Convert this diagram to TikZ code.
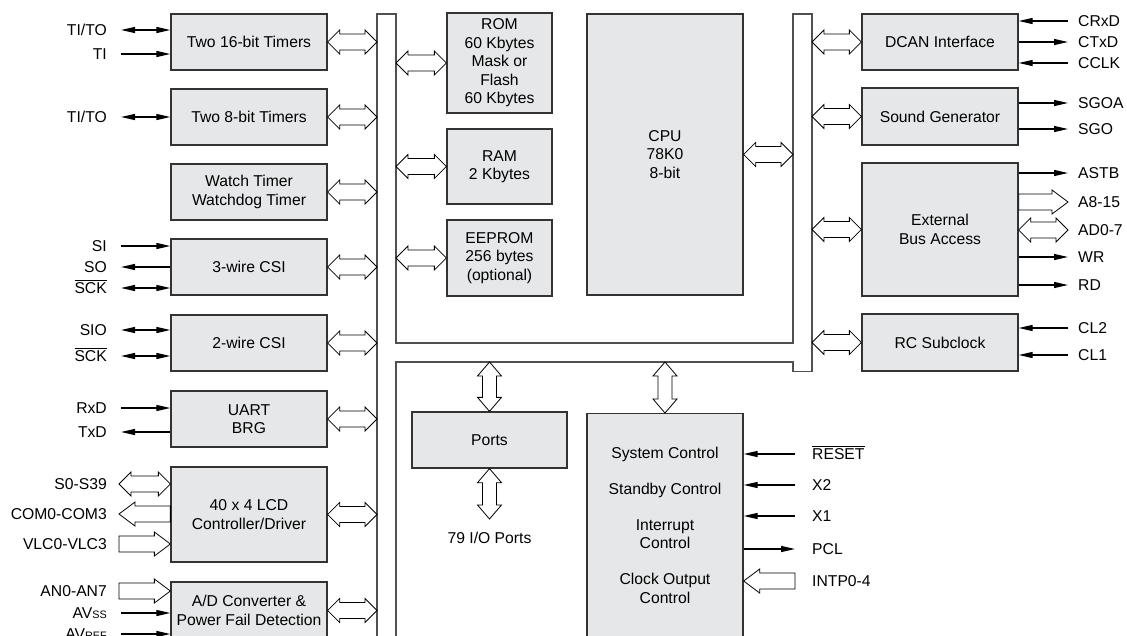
\documentclass[tikz,border=0pt]{standalone}
\usepackage{fontspec}
\setmainfont{Liberation Sans}
\usetikzlibrary{arrows.meta,calc}
\definecolor{boxfill}{HTML}{E6E7E8}
\definecolor{boxline}{HTML}{333333}
\definecolor{busline}{HTML}{505050}
\newcommand\fsz{\fontsize{15.7pt}{18.5pt}\selectfont}
\newcommand\smallsub[1]{{\fontsize{10.8pt}{10.8pt}\selectfont #1}}
\newcommand\ovl[1]{\vbox{\hrule height 0.8pt\kern1.3pt\hbox{#1}}}
% horizontal hollow double arrow, #1 left end, #2 right end
\newcommand\hdbl[2]{%
  \path[hol] let \p1=(#1), \p2=(#2) in
  (\x1,\y1) -- (\x1+12pt,\y1+12pt) -- (\x1+12pt,\y1+8pt) -- (\x2-12pt,\y1+8pt)
  -- (\x2-12pt,\y1+12pt) -- (\x2,\y1) -- (\x2-12pt,\y1-12pt) -- (\x2-12pt,\y1-8pt)
  -- (\x1+12pt,\y1-8pt) -- (\x1+12pt,\y1-12pt) -- cycle;}
% horizontal hollow single arrow, #1 tail, #2 tip
\newcommand\hsgl[2]{%
  \path[hol] let \p1=(#1), \p2=(#2), \n1={16*sign(\x2-\x1)} in
  (\x2,\y1) -- ({\x2-\n1*1pt},{\y1+12pt}) -- ({\x2-\n1*1pt},{\y1+8pt}) -- (\x1,{\y1+8pt})
  -- (\x1,{\y1-8pt}) -- ({\x2-\n1*1pt},{\y1-8pt}) -- ({\x2-\n1*1pt},{\y1-12pt}) -- cycle;}
% vertical hollow double arrow, #1 upper end, #2 lower end
\newcommand\vdbl[2]{%
  \path[hol] let \p1=(#1), \p2=(#2) in
  (\x1,\y1) -- (\x1+12pt,\y1-14pt) -- (\x1+7pt,\y1-14pt) -- (\x1+7pt,\y2+14pt)
  -- (\x1+12pt,\y2+14pt) -- (\x1,\y2) -- (\x1-12pt,\y2+14pt) -- (\x1-7pt,\y2+14pt)
  -- (\x1-7pt,\y1-14pt) -- (\x1-12pt,\y1-14pt) -- cycle;}
\begin{document}
\begin{tikzpicture}[x=1pt,y=-1pt,
  every node/.style={font=\fsz},
  blk/.style={draw=boxline, line width=1.3pt, fill=boxfill, inner sep=0pt, align=center},
  lab/.style={inner sep=0pt, text height=11pt, text depth=0pt},
  sig/.style={line width=1.3pt, -{Triangle[length=14pt,width=6pt]}},
  sigb/.style={line width=1.3pt, {Triangle[length=14pt,width=6pt]}-{Triangle[length=14pt,width=6pt]}},
  hol/.style={draw=black, line width=0.8pt, fill=white, line join=miter},
  busl/.style={draw=busline, line width=1.2pt}]
\useasboundingbox (0,0) rectangle (1127,635);
\clip (0,0) rectangle (1127,635);
\fill[white] (0,0) rectangle (1127,635);

% bus
\draw[busl] (377,650) -- (377,14) -- (396,14) -- (396,343) -- (793,343) -- (793,14)
  -- (812,14) -- (812,371.5) -- (793,371.5) -- (793,362) -- (396,362) -- (396,650);
\coordinate (lbusL) at (377,0);
\coordinate (lbusR) at (396,0);
\coordinate (rbusL) at (793,0);
\coordinate (rbusR) at (812,0);
\coordinate (busLow) at (0,362);

% left blocks
\node[blk, minimum width=156pt, minimum height=56pt] (t16) at (249,42) {Two 16-bit Timers};
\node[blk, minimum width=156pt, minimum height=56pt] (t8) at (249,117) {Two 8-bit Timers};
\node[blk, minimum width=156pt, minimum height=56pt] (wdt) at (249,192) {Watch Timer\\Watchdog Timer};
\node[blk, minimum width=156pt, minimum height=56pt] (csi3) at (249,267) {3-wire CSI};
\node[blk, minimum width=156pt, minimum height=56pt] (csi2) at (249,343) {2-wire CSI};
\node[blk, minimum width=156pt, minimum height=56pt] (uart) at (249,419) {UART\\BRG};
\node[blk, minimum width=156pt, minimum height=95pt] (lcd) at (249,514.5) {40 x 4 LCD\\Controller/Driver};
\node[blk, minimum width=156pt, minimum height=57pt] (adc) at (249,610.5) {A/D Converter \&\\Power Fail Detection};

% middle blocks
\node[blk, minimum width=105pt, minimum height=100pt] (rom) at (499.5,63) {ROM\\60 Kbytes\\Mask or\\Flash\\60 Kbytes};
\node[blk, minimum width=105pt, minimum height=75pt] (ram) at (499.5,166.5) {RAM\\2 Kbytes};
\node[blk, minimum width=105pt, minimum height=76pt] (eep) at (499.5,258) {EEPROM\\256 bytes\\(optional)};
\node[blk, minimum width=156pt, minimum height=281pt] (cpu) at (665,154.5) {CPU\\78K0\\8-bit};
\node[blk, minimum width=155pt, minimum height=56pt] (ports) at (489.5,440) {Ports};
\node[blk, anchor=north, minimum width=156pt, minimum height=240pt] (sys) at (665,413) {};
\node[align=center, inner sep=0pt] (systxt) at (665,525) {System Control\\[17.5pt]Standby Control\\[17.5pt]Interrupt\\Control\\[17.5pt]Clock Output\\Control};

% right blocks
\node[blk, minimum width=156pt, minimum height=56pt] (dcan) at (940,42) {DCAN Interface};
\node[blk, minimum width=156pt, minimum height=57pt] (snd) at (940,116.5) {Sound Generator};
\node[blk, minimum width=156pt, minimum height=133pt] (ext) at (940,229.5) {External\\Bus Access};
\node[blk, minimum width=156pt, minimum height=57pt] (rc) at (940,342.5) {RC Subclock};

% bus connections
\hdbl{t16.east}{lbusL |- t16.east}
\hdbl{t8.east}{lbusL |- t8.east}
\hdbl{wdt.east}{lbusL |- wdt.east}
\hdbl{csi3.east}{lbusL |- csi3.east}
\hdbl{csi2.east}{lbusL |- csi2.east}
\hdbl{uart.east}{lbusL |- uart.east}
\hdbl{lcd.east}{lbusL |- lcd.east}
\hdbl{adc.east}{lbusL |- adc.east}
\hdbl{lbusR |- rom.west}{rom.west}
\hdbl{lbusR |- ram.west}{ram.west}
\hdbl{lbusR |- eep.west}{eep.west}
\hdbl{cpu.east}{rbusL |- cpu.east}
\hdbl{rbusR |- dcan.west}{dcan.west}
\hdbl{rbusR |- snd.west}{snd.west}
\hdbl{rbusR |- ext.west}{ext.west}
\hdbl{rbusR |- rc.west}{rc.west}
\vdbl{ports.north |- busLow}{ports.north}
\vdbl{sys.north |- busLow}{sys.north}
\coordinate (io) at (489.5,519);
\vdbl{ports.south}{io}
\node (iolab) at (489.5,538) {79 I/O Ports};

% left signals
\node[lab, anchor=east] (lTITOa) at (107,30) {TI/TO};
\node[lab, anchor=east] (lTI) at (107,54) {TI};
\node[lab, anchor=east] (lTITOb) at (107,117) {TI/TO};
\node[lab, anchor=east] (lSI) at (107,246) {SI};
\node[lab, anchor=east] (lSO) at (107,267) {SO};
\node[lab, anchor=east] (lSCKa) at (107,288) {\ovl{SCK}};
\node[lab, anchor=east] (lSIO) at (107,330) {SIO};
\node[lab, anchor=east] (lSCKb) at (107,356) {\ovl{SCK}};
\node[lab, anchor=east] (lRxD) at (107,408) {RxD};
\node[lab, anchor=east] (lTxD) at (107,432) {TxD};
\node[lab, anchor=east] (lS0) at (107,484) {S0-S39};
\node[lab, anchor=east] (lCOM) at (107,514) {COM0-COM3};
\node[lab, anchor=east] (lVLC) at (107,544) {VLC0-VLC3};
\node[lab, anchor=east] (lAN) at (107,591) {AN0-AN7};
\node[lab, anchor=east] (lAVSS) at (107,613) {AV\smallsub{SS}};
\node[lab, anchor=east] (lAVREF) at (107,634) {AV\smallsub{REF}};

\draw[sigb] ([xshift=14pt]lTITOa.east) -- (t16.west |- lTITOa.east);
\draw[sig] ([xshift=14pt]lTI.east) -- (t16.west |- lTI.east);
\draw[sigb] ([xshift=14pt]lTITOb.east) -- (t8.west |- lTITOb.east);
\draw[sig] ([xshift=14pt]lSI.east) -- (csi3.west |- lSI.east);
\draw[sig] (csi3.west |- lSO.east) -- ([xshift=14pt]lSO.east);
\draw[sigb] ([xshift=14pt]lSCKa.east) -- (csi3.west |- lSCKa.east);
\draw[sigb] ([xshift=14pt]lSIO.east) -- (csi2.west |- lSIO.east);
\draw[sigb] ([xshift=14pt]lSCKb.east) -- (csi2.west |- lSCKb.east);
\draw[sig] ([xshift=14pt]lRxD.east) -- (uart.west |- lRxD.east);
\draw[sig] (uart.west |- lTxD.east) -- ([xshift=14pt]lTxD.east);
\hdbl{[xshift=12pt]lS0.east}{lcd.west |- lS0.east}
\hsgl{lcd.west |- lCOM.east}{[xshift=12pt]lCOM.east}
\hsgl{[xshift=12pt]lVLC.east}{lcd.west |- lVLC.east}
\hsgl{[xshift=12pt]lAN.east}{adc.west |- lAN.east}
\draw[sig] ([xshift=14pt]lAVSS.east) -- (adc.west |- lAVSS.east);
\draw[sig] ([xshift=14pt]lAVREF.east) -- (adc.west |- lAVREF.east);

% right signals
\node[lab, anchor=west] (lCRxD) at (1078,21) {CRxD};
\node[lab, anchor=west] (lCTxD) at (1078,42) {CTxD};
\node[lab, anchor=west] (lCCLK) at (1078,63) {CCLK};
\node[lab, anchor=west] (lSGOA) at (1078,103) {SGOA};
\node[lab, anchor=west] (lSGO) at (1078,129) {SGO};
\node[lab, anchor=west] (lASTB) at (1078,173) {ASTB};
\node[lab, anchor=west] (lA8) at (1078,202) {A8-15};
\node[lab, anchor=west] (lAD) at (1078,230) {AD0-7};
\node[lab, anchor=west] (lWR) at (1078,257) {WR};
\node[lab, anchor=west] (lRD) at (1078,285) {RD};
\node[lab, anchor=west] (lCL2) at (1078,328) {CL2};
\node[lab, anchor=west] (lCL1) at (1078,355) {CL1};

\draw[sig] ([xshift=-10pt]lCRxD.west) -- (dcan.east |- lCRxD.west);
\draw[sig] (dcan.east |- lCTxD.west) -- ([xshift=-10pt]lCTxD.west);
\draw[sig] ([xshift=-10pt]lCCLK.west) -- (dcan.east |- lCCLK.west);
\draw[sig] (snd.east |- lSGOA.west) -- ([xshift=-10pt]lSGOA.west);
\draw[sig] (snd.east |- lSGO.west) -- ([xshift=-10pt]lSGO.west);
\draw[sig] (ext.east |- lASTB.west) -- ([xshift=-10pt]lASTB.west);
\hsgl{ext.east |- lA8.west}{[xshift=-10pt]lA8.west}
\hdbl{ext.east |- lAD.west}{[xshift=-10pt]lAD.west}
\draw[sig] (ext.east |- lWR.west) -- ([xshift=-10pt]lWR.west);
\draw[sig] (ext.east |- lRD.west) -- ([xshift=-10pt]lRD.west);
\draw[sig] ([xshift=-10pt]lCL2.west) -- (rc.east |- lCL2.west);
\draw[sig] ([xshift=-10pt]lCL1.west) -- (rc.east |- lCL1.west);

% system control signals
\node[lab, anchor=west] (lRESET) at (812,454) {\ovl{RESET}};
\node[lab, anchor=west] (lX2) at (812,485) {X2};
\node[lab, anchor=west] (lX1) at (812,516) {X1};
\node[lab, anchor=west] (lPCL) at (812,549) {PCL};
\node[lab, anchor=west] (lINTP) at (812,581) {INTP0-4};

\draw[sig] ([xshift=-17pt]lRESET.west) -- (sys.east |- lRESET.west);
\draw[sig] ([xshift=-17pt]lX2.west) -- (sys.east |- lX2.west);
\draw[sig] ([xshift=-17pt]lX1.west) -- (sys.east |- lX1.west);
\draw[sig] (sys.east |- lPCL.west) -- ([xshift=-17pt]lPCL.west);
\hsgl{[xshift=-17pt]lINTP.west}{sys.east |- lINTP.west}
\end{tikzpicture}
\end{document}
